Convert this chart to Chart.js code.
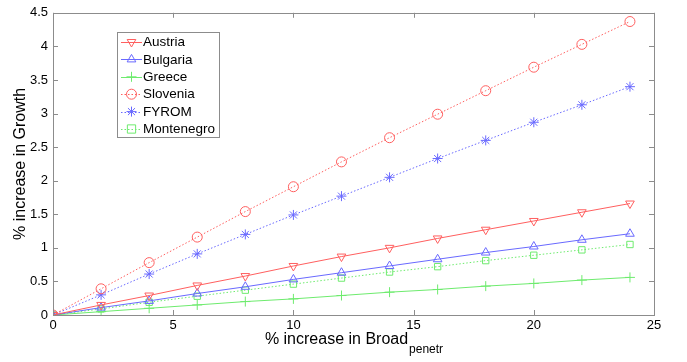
<!DOCTYPE html>
<html>
<head>
<meta charset="utf-8">
<script src="https://cdn.jsdelivr.net/npm/chart.js@4/dist/chart.umd.min.js"></script>
<style>
html,body{margin:0;padding:0;background:#fff;}
#wrap{width:687px;height:362px;}
</style>
</head>
<body>
<div id="wrap"><canvas id="c" width="687" height="362"></canvas></div>
<script>
const broadband = [0, 2, 4, 6, 8, 10, 12, 14, 16, 18, 20, 22, 24];
const austria    = [0, 0.15, 0.29, 0.44, 0.58, 0.73, 0.87, 1.00, 1.14, 1.27, 1.40, 1.53, 1.66];
const bulgaria   = [0, 0.11, 0.21, 0.32, 0.42, 0.53, 0.63, 0.73, 0.83, 0.93, 1.02, 1.12, 1.21];
const greece     = [0, 0.05, 0.10, 0.15, 0.20, 0.24, 0.29, 0.34, 0.38, 0.43, 0.47, 0.52, 0.56];
const slovenia   = [0, 0.39, 0.78, 1.16, 1.54, 1.91, 2.28, 2.64, 2.99, 3.34, 3.69, 4.03, 4.37];
const fyrom      = [0, 0.30, 0.61, 0.91, 1.20, 1.49, 1.77, 2.05, 2.33, 2.60, 2.87, 3.13, 3.40];
const montenegro = [0, 0.09, 0.19, 0.28, 0.37, 0.46, 0.55, 0.64, 0.72, 0.81, 0.89, 0.97, 1.05];
const xTicks = [0, 5, 10, 15, 20, 25];
const yTicks = [0, 0.5, 1, 1.5, 2, 2.5, 3, 3.5, 4, 4.5];

const RED = 'rgb(255,95,95)';
const BLUE = 'rgb(105,105,255)';
const GREEN = 'rgb(110,235,110)';
const FONT = '"Liberation Sans", Arial, sans-serif';

const seriesDefs = [
  {label:'Austria', data:austria, color:RED, dash:[], style:'triangle', rot:180},
  {label:'Bulgaria', data:bulgaria, color:BLUE, dash:[], style:'triangle', rot:0},
  {label:'Greece', data:greece, color:GREEN, dash:[], style:'cross', rot:0},
  {label:'Slovenia', data:slovenia, color:RED, dash:[1.5,2], style:'circle', rot:0},
  {label:'FYROM', data:fyrom, color:BLUE, dash:[1.5,2], style:'star', rot:0},
  {label:'Montenegro', data:montenegro, color:GREEN, dash:[1.5,2], style:'rect', rot:0}
];

const datasets = seriesDefs.map(s => ({
  label: s.label,
  data: broadband.map((x, i) => ({x: x, y: s.data[i]})),
  borderColor: s.color,
  borderWidth: 1,
  borderDash: s.dash,
  backgroundColor: 'rgba(0,0,0,0)',
  pointStyle: s.style,
  pointRotation: s.rot,
  pointRadius: s.style === 'rect' ? 4.5 : 5,
  pointBorderColor: s.color,
  pointBackgroundColor: 'rgba(0,0,0,0)',
  pointBorderWidth: 1,
  tension: 0,
  fill: false
}));

function drawMarker(ctx, style, rot, x, y, r) {
  ctx.save();
  ctx.translate(x, y);
  ctx.rotate(rot * Math.PI / 180);
  ctx.beginPath();
  if (style === 'triangle') {
    ctx.moveTo(0, -r);
    ctx.lineTo(r * Math.sin(Math.PI / 3), r * 0.5);
    ctx.lineTo(-r * Math.sin(Math.PI / 3), r * 0.5);
    ctx.closePath();
  } else if (style === 'circle') {
    ctx.arc(0, 0, r, 0, Math.PI * 2);
  } else if (style === 'rect') {
    const s = r * Math.SQRT1_2 * 1.3;
    ctx.rect(-s, -s, 2 * s, 2 * s);
  } else if (style === 'cross') {
    ctx.moveTo(-r, 0); ctx.lineTo(r, 0);
    ctx.moveTo(0, -r); ctx.lineTo(0, r);
  } else if (style === 'star') {
    ctx.moveTo(-r, 0); ctx.lineTo(r, 0);
    ctx.moveTo(0, -r); ctx.lineTo(0, r);
    const d = r * Math.SQRT1_2;
    ctx.moveTo(-d, -d); ctx.lineTo(d, d);
    ctx.moveTo(-d, d); ctx.lineTo(d, -d);
  }
  ctx.stroke();
  ctx.restore();
}

const decor = {
  id: 'decor',
  afterDraw(chart) {
    const ctx = chart.ctx;
    const a = chart.chartArea;
    const xs = chart.scales.x, ys = chart.scales.y;
    ctx.save();
    ctx.strokeStyle = '#8c8c8c';
    ctx.lineWidth = 1;
    ctx.setLineDash([]);
    ctx.strokeRect(Math.round(a.left) + 0.5, Math.round(a.top) + 0.5,
                   Math.round(a.right - a.left), Math.round(a.bottom - a.top));
    const tl = 5;
    ctx.beginPath();
    xTicks.forEach(v => {
      const px = Math.round(xs.getPixelForValue(v)) + 0.5;
      ctx.moveTo(px, a.bottom); ctx.lineTo(px, a.bottom - tl);
      ctx.moveTo(px, a.top); ctx.lineTo(px, a.top + tl);
    });
    yTicks.forEach(v => {
      const py = Math.round(ys.getPixelForValue(v)) + 0.5;
      ctx.moveTo(a.left, py); ctx.lineTo(a.left + tl, py);
      ctx.moveTo(a.right, py); ctx.lineTo(a.right - tl, py);
    });
    ctx.stroke();

    // x-axis title with subscript
    const main = '% increase in Broad';
    const sub = 'penetr';
    ctx.fillStyle = '#000';
    ctx.textBaseline = 'alphabetic';
    ctx.font = '16px ' + FONT;
    const w1 = ctx.measureText(main).width;
    ctx.font = '12px ' + FONT;
    const w2 = ctx.measureText(sub).width;
    const cx = (a.left + a.right) / 2;
    const startX = cx - (w1 + w2) / 2;
    ctx.font = '16px ' + FONT;
    ctx.textAlign = 'left';
    ctx.fillText(main, startX, 344);
    ctx.font = '12px ' + FONT;
    ctx.fillText(sub, startX + w1 + 1, 353);

    // legend
    const lx = 117, ly = 32, lw = 102, lh = 105;
    ctx.fillStyle = '#fff';
    ctx.fillRect(lx, ly, lw, lh);
    ctx.strokeStyle = '#8c8c8c';
    ctx.strokeRect(lx + 0.5, ly + 0.5, lw, lh);
    ctx.font = '13.5px ' + FONT;
    ctx.textBaseline = 'middle';
    seriesDefs.forEach((s, i) => {
      const yy = 42 + i * 17.4;
      ctx.strokeStyle = s.color;
      ctx.lineWidth = 1;
      ctx.setLineDash(s.dash);
      ctx.beginPath();
      ctx.moveTo(121, Math.round(yy) + 0.5);
      ctx.lineTo(142, Math.round(yy) + 0.5);
      ctx.stroke();
      ctx.setLineDash([]);
      drawMarker(ctx, s.style, s.rot, 131.5, yy, s.style === 'rect' ? 4.5 : 5);
      ctx.fillStyle = '#000';
      ctx.fillText(s.label, 143, yy + 0.5);
    });
    ctx.restore();
  }
};

new Chart(document.getElementById('c'), {
  type: 'line',
  data: { datasets },
  options: {
    responsive: false,
    animation: false,
    devicePixelRatio: 1,
    layout: { padding: { top: 5, right: 33, left: 0, bottom: 0 } },
    plugins: { legend: { display: false }, tooltip: { enabled: false } },
    scales: {
      x: {
        type: 'linear', min: 0, max: 25,
        afterBuildTicks: s => { s.ticks = xTicks.map(v => ({value: v})); },
        afterFit: s => { s.height = 47; },
        grid: { display: false, drawTicks: false },
        border: { display: false },
        ticks: { padding: 3, color: '#000', font: { size: 13, family: FONT },
                 maxRotation: 0, callback: v => String(v) },
        title: { display: false }
      },
      y: {
        type: 'linear', min: 0, max: 4.5,
        afterBuildTicks: s => { s.ticks = yTicks.map(v => ({value: v})); },
        afterFit: s => { s.width = 53; },
        grid: { display: false, drawTicks: false },
        border: { display: false },
        ticks: { padding: 5, color: '#000', font: { size: 13, family: FONT },
                 callback: v => String(+v.toFixed(1)) },
        title: { display: true, text: '% increase in Growth', color: '#000', padding: { top: 11, bottom: 0 },
                 font: { size: 16, family: FONT } }
      }
    }
  },
  plugins: [decor]
});
</script>
</body>
</html>
